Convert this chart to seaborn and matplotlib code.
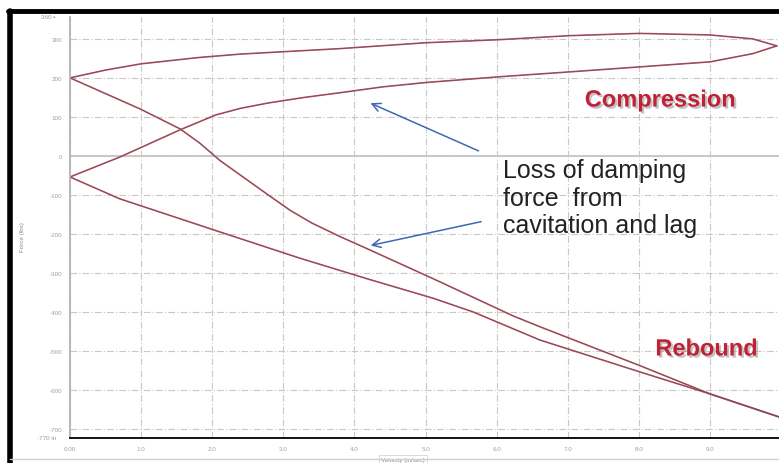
import pandas as pd
import seaborn as sns
from matplotlib import pyplot as plt
from matplotlib import patheffects as pe
from matplotlib.lines import Line2D

# compression loop, upper branch (velocity in/sec, force lbs)
comp_up_v = [0, 0.5, 1.0, 1.8, 2.4, 3.0, 3.8, 5.0, 6.05, 7.0, 8.0, 9.0, 9.6, 9.94]
comp_up_f = [200, 220, 236, 252, 261, 267, 275, 290, 298, 308, 314, 310, 300, 282]
# compression loop, lower branch
comp_lo_v = [0, 0.7, 1.55, 2.05, 2.4, 2.8, 3.3, 3.8, 4.4, 5.0, 6.05, 7.0, 8.0, 9.0, 9.6, 9.94]
comp_lo_f = [-54, -3, 67, 105, 122, 136, 150, 162, 177, 188, 203, 215, 228, 241, 262, 282]
# rebound, upper (lagging) branch
reb_up_v = [0, 0.99, 1.55, 1.83, 2.11, 2.81, 3.1, 3.4, 3.8, 4.18, 5.11, 6.23, 6.61, 8.02, 9.0, 9.97]
reb_up_f = [200, 120, 69, 32, -12, -103, -140, -172, -207, -238, -315, -410, -438, -538, -610, -669]
# rebound, lower branch
reb_lo_v = [0, 0.7, 2.11, 3.23, 4.18, 5.11, 5.67, 6.61, 8.02, 9.0, 9.97]
reb_lo_f = [-54, -110, -195, -262, -315, -365, -400, -472, -554, -610, -669]

x_ticks = list(range(0, 10))
y_ticks = [300, 200, 100, 0, -100, -200, -300, -400, -500, -600, -700]

parts = []
for name, v, f in [("comp_up", comp_up_v, comp_up_f), ("comp_lo", comp_lo_v, comp_lo_f),
                   ("reb_up", reb_up_v, reb_up_f), ("reb_lo", reb_lo_v, reb_lo_f)]:
    parts.append(pd.DataFrame({"branch": name, "vel": v, "force": f}))
df = pd.concat(parts, ignore_index=True)

sns.set_theme(style="white")
plt.rcParams['font.family'] = ['Liberation Sans', 'DejaVu Sans']

fig = plt.figure(figsize=(7.79, 4.64), dpi=100)
fig.patch.set_facecolor("white")
ax = fig.add_axes([70 / 779, 1 - 439 / 464, 709 / 779, 421 / 464])

# red trace with a grey one on top, like the screenshot
sns.lineplot(data=df, x="vel", y="force", units="branch", estimator=None, sort=False,
             color="#d8566a", lw=1.2, ax=ax)
sns.lineplot(data=df, x="vel", y="force", units="branch", estimator=None, sort=False,
             color="#555555", lw=0.6, alpha=0.85, ax=ax)

ax.set_xlim(0, 9.97)
ax.set_ylim(-723, 356)
ax.set_xticks(x_ticks)
ax.set_xticklabels(["0.00"] + ["%.1f" % t for t in x_ticks[1:]])
ax.set_yticks(y_ticks)
ax.set_yticklabels([str(t) for t in y_ticks])
ax.tick_params(labelsize=4.5, labelcolor="#a0a0a0", length=2, color="#aaaaaa")
ax.grid(True, color="#c8c8c8", lw=0.8, ls=(0, (6, 2, 1, 2)))
ax.axhline(0, color="#c8c8c8", lw=1.4, zorder=0)
for s in ["top", "right"]:
    ax.spines[s].set_visible(False)
ax.spines["bottom"].set_color("black")
ax.spines["bottom"].set_linewidth(1.3)
ax.spines["left"].set_color("#b0b0b0")

ax.set_xlabel("Velocity (in/sec)", fontsize=4.5, color="#8a8a8a",
              bbox=dict(boxstyle="square,pad=0.3", fc="white", ec="#cccccc", lw=0.5))
ax.xaxis.set_label_coords(0.47, -0.045)
ax.set_ylabel("Force (lbs)", fontsize=4.5, color="#8a8a8a")
ax.yaxis.set_label_coords(-0.063, 0.48)

ax.text(-0.02, 1.0, "360 \u25aa", transform=ax.transAxes, fontsize=4.5, color="#9a9a9a",
        ha="right", va="center")
ax.text(-0.02, 0.0, "-770 in", transform=ax.transAxes, fontsize=4.5, color="#9a9a9a",
        ha="right", va="center")

shadow = [pe.withSimplePatchShadow(offset=(1.5, -1.5), shadow_rgbFace="#888888", alpha=0.5)]
ax.text(8.3, 143, "Compression", fontsize=17, fontweight="bold", color="#bf2236",
        ha="center", va="center", path_effects=shadow)
ax.text(8.95, -495, "Rebound", fontsize=17, fontweight="bold", color="#bf2236",
        ha="center", va="center", path_effects=shadow)

ax.text(6.09, -5, "Loss of damping\nforce  from\ncavitation and lag", fontsize=18,
        color="#222222", ha="left", va="top", linespacing=1.2)

arrow = dict(arrowstyle="->,head_length=0.5,head_width=0.25", color="#3f68b0", lw=1.1)
ax.annotate("", xy=(4.19, 138), xytext=(5.78, 10), arrowprops=arrow)
ax.annotate("", xy=(4.19, -231), xytext=(5.82, -167), arrowprops=arrow)

# screenshot frame
fig.add_artist(Line2D([8 / 779, 1], [1 - 12 / 464] * 2, transform=fig.transFigure,
                      color="black", lw=3.5))
fig.add_artist(Line2D([10 / 779] * 2, [0, 1 - 12 / 464], transform=fig.transFigure,
                      color="black", lw=4))
fig.add_artist(Line2D([10 / 779, 1], [4 / 464] * 2, transform=fig.transFigure,
                      color="#d0d0d0", lw=1))

fig.savefig("out.png", dpi=100)
